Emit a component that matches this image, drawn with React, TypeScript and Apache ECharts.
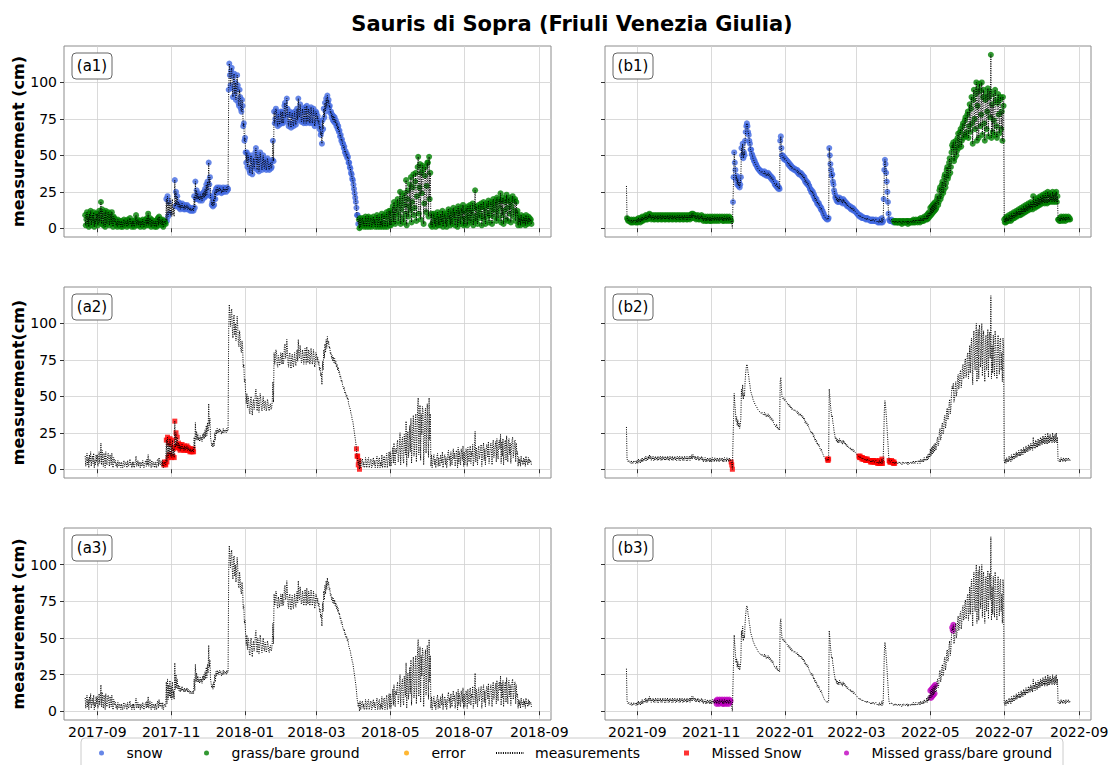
import React, { useEffect, useRef } from "react";
import * as echarts from "echarts";

const FONT = "DejaVu Sans";
const TITLE = "Sauris di Sopra (Friuli Venezia Giulia)";
const PANEL_LABELS = [["(a1)", "(b1)"], ["(a2)", "(b2)"], ["(a3)", "(b3)"]];
const Y_NAMES = ["measurement (cm)", "measurement(cm)", "measurement (cm)"];

// first day of each column's record; values below are twice daily (00:00, 12:00)
const START_A = "2017-08-22";
const START_B = "2021-08-23";

const X_RANGE_A = ["2017-08-04T12:00", "2018-09-10T16:00"];
const X_RANGE_B = ["2021-08-05T07:00", "2022-09-10T17:00"];
const TICKS_A = ["2017-09-01", "2017-11-01", "2018-01-01", "2018-03-01", "2018-05-01", "2018-07-01", "2018-09-01"];
const TICKS_B = ["2021-09-01", "2021-11-01", "2022-01-01", "2022-03-01", "2022-05-01", "2022-07-01", "2022-09-01"];
const Y_TICKS = [0, 25, 50, 75, 100];

// ---- column a: 2017-08-22 .. 2018-08-25 (cm) ----
const a_2017_08 = [9,2, 6,11, 3,8, 1,10, 5,12, 2,7, 9,4, 11,1, 6,3, 10,5];
const a_2017_09 = [
  10,2, 7,12, 4,9, 18,3, 13,6, 2,11, 8,1, 12,5, 3,9, 11,6,
  2,10, 7,3, 11,5, 1,8, 7,4, 6,2, 4,1, 6,3, 2,5, 4,1,
  5,3, 1,4, 6,2, 3,5, 4,1, 6,3, 2,5, 7,3, 4,1, 5,2];
const a_2017_10 = [
  5,1, 3,6, 9,2, 4,6, 2,5, 4,1, 5,3, 2,6, 4,1, 3,5,
  6,2, 7,3, 10,2, 5,7, 3,1, 6,4, 2,5, 4,1, 5,3, 1,6,
  7,2, 8,4, 3,6, 5,2, 6,1, 3,5, 4,3, 20,5, 22,8, 18,10, 21,9];
const a_2017_11 = [
  17,8, 20,9, 14,8, 33,15, 25,16, 22,15, 18,14, 17,13, 16,14, 17,14,
  15,13, 16,13, 15,14, 16,13, 15,13, 14,12, 14,12, 13,12, 14,12, 22,14,
  32,20, 26,20, 24,20, 22,19, 23,20, 22,19, 24,21, 25,21, 27,22, 30,23];
const a_2017_12 = [
  32,26, 45,30, 35,22, 22,16, 18,15, 20,16, 25,20, 27,24, 28,25, 27,25,
  28,26, 27,24, 26,25, 28,25, 27,26, 27,25, 28,26, 27,95, 113,105, 98,108,
  110,96, 90,104, 106,92, 100,88, 95,105, 98,86, 84,95, 90,82, 80,88, 84,70, 72,60];
const a_2018_01 = [
  62,52, 45,52, 42,50, 48,40, 38,47, 50,42, 37,45, 48,41, 44,52, 55,46,
  40,50, 47,39, 44,52, 48,42, 40,46, 50,43, 41,47, 45,40, 42,48, 46,41,
  40,44, 45,41, 42,47, 60,46, 80,72, 75,82, 80,72, 70,78, 76,71, 73,80, 78,72];
const a_2018_02 = [
  80,72, 74,84, 86,76, 78,89, 82,73, 70,78, 80,72, 69,77, 79,72, 70,76,
  80,73, 71,78, 82,74, 89,78, 76,85, 80,73, 74,82, 79,72, 75,83, 80,72,
  84,76, 73,82, 80,72, 75,83, 79,72, 74,82, 78,70, 72,80];
const a_2018_03 = [
  79,74, 77,72, 74,68, 70,64, 66,58, 74,68, 82,76, 86,80, 89,83, 91,86,
  88,83, 84,79, 80,76, 78,74, 77,73, 76,72, 74,70, 72,68, 70,66, 67,63,
  64,60, 61,58, 58,55, 56,52, 53,50, 51,48, 49,45, 45,42, 41,38, 37,34, 33,30];
const a_2018_04 = [
  27,24, 21,18, 14,9, 9,3, 6,0, 7,1, 3,6, 7,2, 5,1, 2,8,
  6,1, 4,7, 8,1, 3,6, 7,1, 2,6, 8,3, 6,1, 4,7, 9,1,
  3,7, 8,1, 5,2, 10,1, 4,8, 9,1, 3,8, 11,1, 5,9, 12,2];
const a_2018_05 = [
  12,2, 6,10, 15,4, 18,8, 3,14, 11,17, 20,5, 9,16, 25,3, 13,19,
  22,7, 4,24, 16,10, 33,2, 20,26, 8,15, 30,12, 35,4, 18,28, 37,9,
  14,32, 38,5, 22,42, 49,10, 28,44, 6,38, 24,43, 40,3, 17,36, 42,11, 29,45];
const a_2018_06 = [
  45,8, 49,20, 38,2, 10,1, 4,8, 10,3, 7,1, 5,9, 11,2, 8,4,
  2,10, 7,4, 12,1, 5,9, 10,3, 8,1, 4,11, 13,6, 9,2, 12,5,
  3,10, 14,7, 11,2, 6,13, 10,1, 15,4, 12,8, 3,14, 11,6, 16,2];
const a_2018_07 = [
  12,3, 7,14, 11,2, 15,8, 5,13, 16,4, 12,9, 17,2, 6,14, 26,5,
  15,9, 3,13, 16,7, 10,14, 17,2, 8,15, 18,6, 14,3, 11,17, 16,8,
  19,4, 9,15, 18,12, 3,17, 20,8, 13,16, 19,5, 21,11, 7,18, 20,14, 24,4];
const a_2018_08 = [
  19,9, 21,3, 12,18, 20,6, 23,14, 5,19, 21,10, 18,4, 15,20, 22,8,
  12,19, 20,5, 18,10, 12,2, 8,4, 7,2, 9,5, 6,3, 8,4, 7,2,
  9,5, 6,3, 8,4, 7,5, 6,3];

// ---- column b: 2021-08-23 .. 2022-08-24 (cm) ----
const b_2021_08 = [29,7, 6,5, 6,5, 5,4, 6,4, 5,4, 6,5, 5,4, 6,4];
const b_2021_09 = [
  6,4, 7,5, 6,4, 7,5, 8,5, 7,6, 8,6, 9,6, 8,6, 9,7,
  10,7, 9,6, 8,7, 9,6, 8,6, 9,7, 8,6, 9,6, 8,7, 9,6,
  8,6, 9,7, 8,6, 9,6, 8,7, 9,6, 8,6, 9,7, 8,6, 9,6];
const b_2021_10 = [
  8,7, 9,6, 8,6, 9,7, 8,6, 9,6, 8,7, 9,6, 8,6, 9,7,
  8,6, 9,6, 8,7, 9,6, 9,7, 10,7, 10,8, 9,7, 9,6, 8,7,
  9,6, 8,6, 8,7, 9,6, 8,5, 7,6, 8,5, 7,5, 8,6, 7,5, 8,5];
const b_2021_11 = [
  7,5, 8,6, 7,5, 8,6, 7,5, 8,6, 7,5, 8,6, 7,6, 8,5,
  7,5, 8,6, 7,5, 8,6, 7,5, 8,6, 7,5, 3,0, 18,35, 52,45,
  40,33, 36,30, 34,29, 32,28, 30,35, 55,50, 58,48, 52,50, 60,66, 70,72];
const b_2021_12 = [
  70,66, 64,60, 58,54, 54,51, 50,48, 48,46, 46,44, 44,43, 42,41, 41,40,
  40,39, 39,38, 39,38, 38,37, 39,37, 38,36, 37,36, 38,36, 37,35, 36,34,
  35,33, 34,32, 32,30, 30,29, 31,28, 29,27, 28,27, 60,63, 55,50, 50,48, 49,47];
const b_2022_01 = [
  48,47, 47,46, 46,44, 45,43, 44,42, 43,41, 42,41, 41,40, 41,40, 40,39,
  40,38, 39,37, 38,37, 38,36, 37,35, 36,34, 35,32, 33,31, 32,30, 31,29,
  29,27, 27,25, 26,24, 25,22, 23,20, 21,19, 20,17, 18,16, 17,15, 15,13, 14,12];
const b_2022_02 = [
  12,10, 10,8, 8,7, 7,6, 7,6, 7,55, 50,44, 40,36, 37,32, 30,26,
  24,21, 22,19, 21,18, 20,18, 21,19, 20,18, 19,17, 20,18, 19,17, 18,16,
  17,15, 16,15, 15,14, 15,13, 14,13, 14,12, 13,12, 12,11];
const b_2022_03 = [
  11,10, 10,9, 9,8, 9,8, 8,7, 8,7, 7,7, 7,6, 7,6, 7,6,
  6,6, 6,5, 6,5, 6,5, 6,5, 5,5, 6,5, 5,4, 5,4, 6,4,
  5,4, 7,4, 5,20, 40,47, 44,38, 32,25, 18,10, 6,5, 5,5, 6,5, 5,4];
const b_2022_04 = [
  5,4, 5,4, 5,4, 4,4, 5,4, 5,4, 4,3, 5,4, 5,4, 4,4,
  5,4, 5,3, 5,4, 4,4, 5,4, 5,4, 6,4, 5,4, 6,5, 5,4,
  6,5, 6,4, 7,5, 6,5, 7,5, 8,6, 7,6, 9,6, 10,7, 11,8];
const b_2022_05 = [
  14,9, 15,10, 16,11, 17,12, 18,13, 14,20, 22,16, 18,26, 28,20, 22,30,
  32,24, 26,35, 37,28, 31,40, 42,34, 36,45, 48,38, 42,52, 57,55, 59,46,
  48,56, 60,50, 53,62, 65,55, 58,66, 68,56, 60,70, 72,62, 64,74, 76,63, 66,78];
const b_2022_06 = [
  80,62, 70,85, 66,82, 90,72, 58,88, 95,75, 68,92, 100,60, 84,96, 62,99,
  94,70, 78,100, 64,90, 95,72, 60,88, 92,68, 80,96, 63,90, 94,76, 119,62,
  85,66, 92,74, 64,95, 88,70, 62,86, 92,78, 65,88, 90,68, 80,60, 90,84];
const b_2022_07 = [
  6,4, 7,4, 8,5, 7,5, 9,6, 8,5, 10,6, 9,7, 11,7, 10,8,
  12,8, 11,9, 13,9, 12,9, 14,10, 13,10, 15,11, 14,11, 16,12, 15,12,
  17,13, 16,13, 18,14, 17,13, 22,15, 18,14, 20,15, 19,15, 21,16, 20,16, 22,17];
const b_2022_08 = [
  21,17, 23,18, 22,17, 24,18, 22,17, 25,18, 23,18, 24,19, 22,18, 25,19,
  23,18, 24,19, 25,18, 22,6, 6,5, 7,5, 8,6, 7,5, 8,6, 7,5,
  8,6, 7,6, 8,6, 7,6];

// ---- classification periods (inclusive) ----
const SNOW_A = [["2017-10-28T00:00", "2017-10-30T12:00"], ["2017-11-04T00:00", "2018-04-04T12:00"]];
const GRASS_A = [["2017-08-22T00:00", "2017-10-27T12:00"], ["2018-04-05T00:00", "2018-08-25T12:00"]];
const MISSED_SNOW_A = [["2017-10-26T00:00", "2017-11-19T12:00"], ["2018-04-03T00:00", "2018-04-05T12:00"]];
const MISSED_GRASS_A: string[][] = [];

const SNOW_B = [["2021-11-19T00:00", "2022-03-31T12:00"]];
const GRASS_B = [["2021-08-23T12:00", "2021-11-17T12:00"], ["2022-04-01T00:00", "2022-08-24T12:00"]];
const MISSED_SNOW_B = [
  ["2021-11-17T12:00", "2021-11-18T12:00"], ["2022-02-05T00:00", "2022-02-06T00:00"],
  ["2022-03-03T00:00", "2022-03-22T12:00"], ["2022-03-28T00:00", "2022-04-01T12:00"]];
const MISSED_GRASS_B = [
  ["2021-11-05T00:00", "2021-11-17T00:00"], ["2022-05-01T00:00", "2022-05-05T00:00"],
  ["2022-05-19T00:00", "2022-05-20T00:00"]];

const MEAS_A = [...a_2017_08, ...a_2017_09, ...a_2017_10, ...a_2017_11, ...a_2017_12, ...a_2018_01,
  ...a_2018_02, ...a_2018_03, ...a_2018_04, ...a_2018_05, ...a_2018_06, ...a_2018_07, ...a_2018_08];
const MEAS_B = [...b_2021_08, ...b_2021_09, ...b_2021_10, ...b_2021_11, ...b_2021_12, ...b_2022_01,
  ...b_2022_02, ...b_2022_03, ...b_2022_04, ...b_2022_05, ...b_2022_06, ...b_2022_07, ...b_2022_08];

const LEGEND_NAMES = ["snow", "grass/bare ground", "error", "measurements", "Missed Snow", "Missed grass/bare ground"];

const COLORS = {
  snow: "#4169e1",
  grass: "#008000",
  error: "#ffa500",
  missedSnow: "#ff0000",
  missedGrass: "#bf00bf",
};

const HALF_DAY = 12 * 3600 * 1000;
const ts = (s: string) => Date.parse((s.length === 10 ? s + "T00:00" : s) + ":00Z");

function toPoints(start: string, values: number[]) {
  const s = ts(start);
  return values.map((v, i) => [s + i * HALF_DAY, v]);
}
function pick(points: number[][], ranges: string[][]) {
  const rr = ranges.map((r) => [ts(r[0]), ts(r[1])]);
  return points.filter((p) => rr.some((r) => p[0] >= r[0] && p[0] <= r[1]));
}
const fmtMonth = (v: number) => {
  const d = new Date(v);
  return d.getUTCFullYear() + "-" + String(d.getUTCMonth() + 1).padStart(2, "0");
};

// layout
const GRID_LEFT = [64, 605];
const GRID_WIDTH = [487, 486];
const GRID_TOP = [46, 287, 528];
const GRID_HEIGHT = [191, 191, 192];
const LEGEND_X = [99, 204, 404, 495, 684, 844];
const CIRCLE_ICON = "path://M5,0A5,5,0,1,1,5,10A5,5,0,1,1,5,0Z";
const SQUARE_ICON = "path://M0,0H10V10H0Z";

function buildOption() {
  const pts = [toPoints(START_A, MEAS_A), toPoints(START_B, MEAS_B)];
  const ranges = [X_RANGE_A, X_RANGE_B];
  const ticks = [TICKS_A.map(ts), TICKS_B.map(ts)];
  const snow = [SNOW_A, SNOW_B];
  const grass = [GRASS_A, GRASS_B];
  const mSnow = [MISSED_SNOW_A, MISSED_SNOW_B];
  const mGrass = [MISSED_GRASS_A, MISSED_GRASS_B];

  const grid: any[] = [];
  const xAxis: any[] = [];
  const yAxis: any[] = [];
  const series: any[] = [];
  const graphic: any[] = [];

  for (let row = 0; row < 3; row++) {
    for (let col = 0; col < 2; col++) {
      const idx = row * 2 + col;
      grid.push({
        left: GRID_LEFT[col], top: GRID_TOP[row], width: GRID_WIDTH[col], height: GRID_HEIGHT[row],
        show: true, borderColor: "#8c8c8c", borderWidth: 1, backgroundColor: "transparent",
      });
      xAxis.push({
        type: "value", gridIndex: idx,
        min: ts(ranges[col][0]), max: ts(ranges[col][1]),
        axisLine: { show: false },
        axisTick: { show: true, customValues: ticks[col], length: 4, lineStyle: { color: "#333", width: 1 } },
        axisLabel: {
          show: row === 2, customValues: ticks[col], formatter: fmtMonth,
          fontSize: 14, color: "#000", fontFamily: FONT, margin: 5,
        },
        splitLine: { show: true, lineStyle: { color: "#d0d0d0", width: 0.8 } },
      });
      yAxis.push({
        type: "value", gridIndex: idx, min: -6, max: 125,
        axisLine: { show: false },
        axisTick: { show: true, customValues: Y_TICKS, length: 4, lineStyle: { color: "#333", width: 1 } },
        axisLabel: {
          show: col === 0, customValues: Y_TICKS, fontSize: 14, color: "#000", fontFamily: FONT, margin: 7,
        },
        splitLine: { show: true, lineStyle: { color: "#d0d0d0", width: 0.8 } },
        name: col === 0 ? Y_NAMES[row] : "",
        nameLocation: "middle", nameGap: 36, nameRotate: 90,
        nameTextStyle: { fontSize: 16, fontWeight: "bold", color: "#000", fontFamily: FONT },
      });

      if (row === 0) {
        series.push({
          name: "snow", type: "scatter", xAxisIndex: idx, yAxisIndex: idx,
          data: pick(pts[col], snow[col]), symbol: "circle", symbolSize: 6,
          itemStyle: { color: COLORS.snow }, z: 2, silent: true,
        });
        series.push({
          name: "grass/bare ground", type: "scatter", xAxisIndex: idx, yAxisIndex: idx,
          data: pick(pts[col], grass[col]), symbol: "circle", symbolSize: 6,
          itemStyle: { color: COLORS.grass }, z: 2, silent: true,
        });
        if (col === 0) {
          series.push({
            name: "error", type: "scatter", xAxisIndex: idx, yAxisIndex: idx, data: [],
            symbol: "circle", symbolSize: 6, itemStyle: { color: COLORS.error }, z: 2, silent: true,
          });
        }
      }
      if (row === 1) {
        series.push({
          name: "Missed Snow", type: "scatter", xAxisIndex: idx, yAxisIndex: idx,
          data: pick(pts[col], mSnow[col]), symbol: "rect", symbolSize: 5,
          itemStyle: { color: COLORS.missedSnow }, z: 2, silent: true,
        });
      }
      if (row === 2) {
        series.push({
          name: "Missed grass/bare ground", type: "scatter", xAxisIndex: idx, yAxisIndex: idx,
          data: pick(pts[col], mGrass[col]), symbol: "circle", symbolSize: 6,
          itemStyle: { color: COLORS.missedGrass }, z: 2, silent: true,
        });
      }
      series.push({
        name: "measurements", type: "line", xAxisIndex: idx, yAxisIndex: idx,
        data: pts[col], symbol: "none", showSymbol: false,
        lineStyle: { color: "#000", width: 1, type: [1, 1.3] },
        itemStyle: { color: "#000" }, z: 3, silent: true,
      });

      const bx = GRID_LEFT[col] + 8;
      const by = GRID_TOP[row] + 7;
      graphic.push({
        type: "rect", z: 100, shape: { x: bx, y: by, width: 40, height: 26, r: 4 },
        style: { fill: "#fff", stroke: "#666", lineWidth: 1 },
      });
      graphic.push({
        type: "text", z: 101, x: bx + 20, y: by + 13,
        style: {
          text: PANEL_LABELS[row][col], fontSize: 15, fontFamily: FONT, fill: "#000",
          align: "center", verticalAlign: "middle",
        },
      });
    }
  }

  graphic.push({
    type: "text", z: 101, x: 572, y: 24,
    style: {
      text: TITLE, fontSize: 21, fontWeight: "bold", fontFamily: FONT, fill: "#000",
      align: "center", verticalAlign: "middle",
    },
  });
  // legend frame
  graphic.push({
    type: "rect", z: 0, shape: { x: 81, y: 738, width: 982, height: 40, r: 4 },
    style: { fill: "#fff", stroke: "#cccccc", lineWidth: 1 },
  });

  const legendIcons: Record<string, any> = {
    "snow": { icon: CIRCLE_ICON },
    "grass/bare ground": { icon: CIRCLE_ICON },
    "error": { icon: CIRCLE_ICON },
    "measurements": { itemStyle: { opacity: 0 } },
    "Missed Snow": { icon: SQUARE_ICON },
    "Missed grass/bare ground": { icon: CIRCLE_ICON },
  };
  const legend = LEGEND_NAMES.map((name, i) => ({
    left: LEGEND_X[i], top: 746, padding: 0,
    itemWidth: 28, itemHeight: 5, itemGap: 0,
    selectedMode: false,
    textStyle: { fontSize: 14, color: "#000", fontFamily: FONT, padding: [0, 0, 0, 6] },
    data: [{ name, ...legendIcons[name] }],
    z: 5,
  }));

  return {
    animation: false,
    backgroundColor: "#fff",
    grid, xAxis, yAxis, series, graphic, legend,
  };
}

export default function App() {
  const ref = useRef<HTMLDivElement>(null);
  useEffect(() => {
    const chart = echarts.init(ref.current!, null, { renderer: "svg" });
    chart.setOption(buildOption() as any);
    return () => chart.dispose();
  }, []);
  return (
    <div
      ref={ref}
      style={{ position: "fixed", left: 0, top: 0, width: 1112, height: 765, background: "#fff" }}
    />
  );
}
